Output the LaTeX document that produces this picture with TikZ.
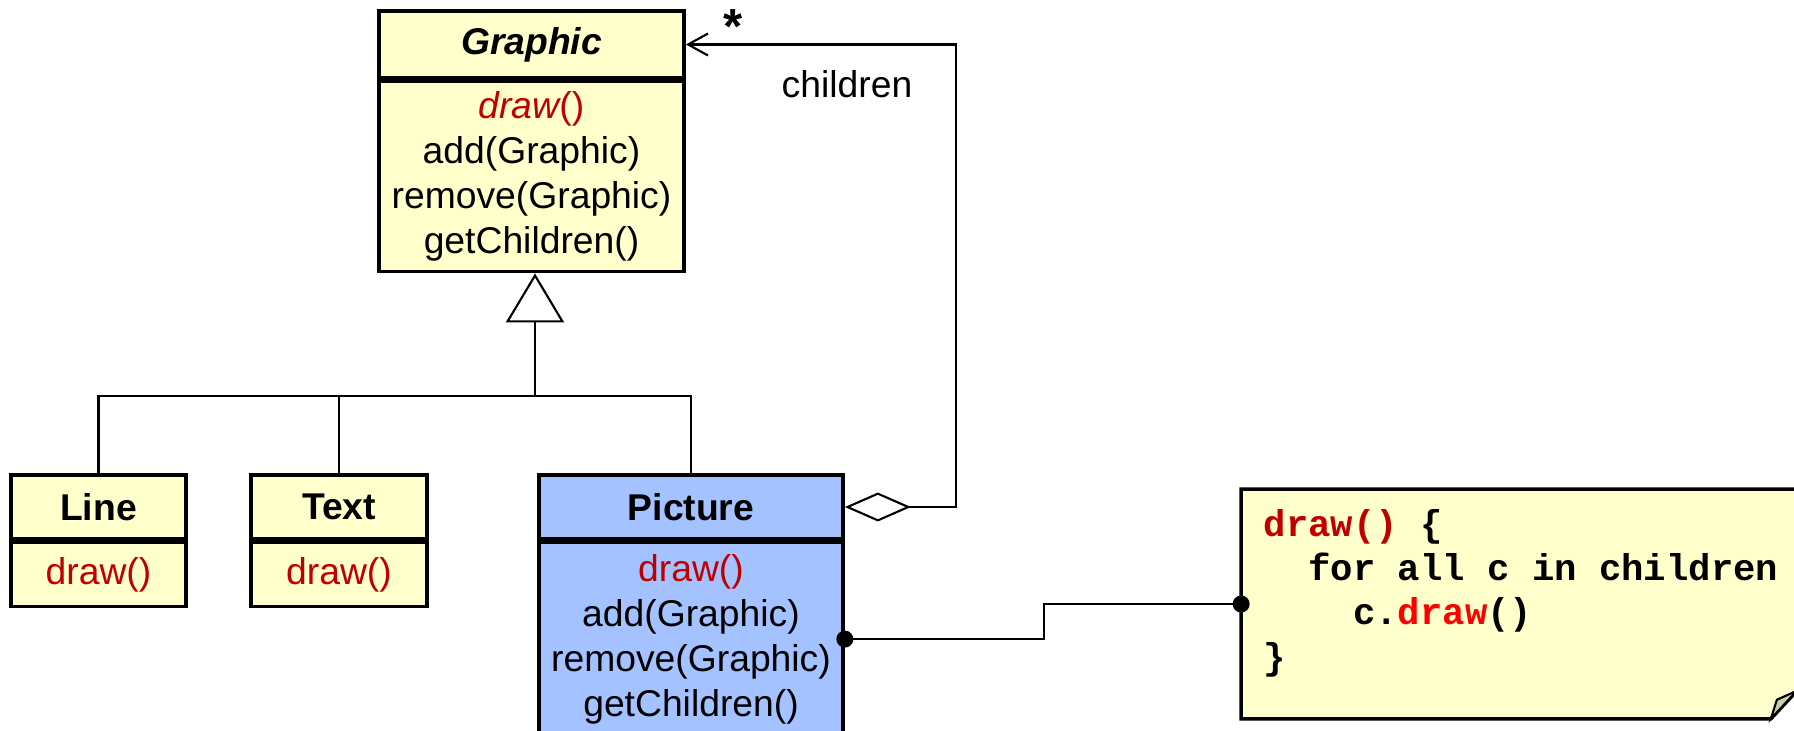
\documentclass[tikz,border=0pt]{standalone}
\usepackage{fontspec}
\setmainfont{Liberation Sans}
\newfontfamily\codefont{Liberation Mono}
\usetikzlibrary{positioning,arrows.meta}

\definecolor{classyellow}{HTML}{FFFFCC}
\definecolor{pictureblue}{HTML}{A3C2FF}
\definecolor{opred}{HTML}{C00000}
\definecolor{callred}{HTML}{FF0000}
\definecolor{foldgray}{HTML}{CDCDAA}

\tikzset{
    umlfont/.style={font=\fontsize{10.6}{12.8}\selectfont},
    classhead/.style={draw, line width=1pt, fill=classyellow, font=\fontsize{10.6}{12.8}\selectfont\bfseries,
        inner sep=0pt, minimum height=0.64cm, align=center},
    classops/.style={draw, line width=1pt, fill=classyellow, umlfont, inner sep=0pt, align=center},
    tree/.style={line width=0.6pt},
    generalize/.style={line width=0.6pt, -{Triangle[open, length=0.49cm, width=0.58cm]}},
    aggregate/.style={line width=0.6pt, {Diamond[open, length=0.66cm, width=0.29cm]}-{Straight Barb[length=0.2cm, width=0.22cm]}},
    link/.style={line width=0.6pt},
    rolelabel/.style={umlfont, inner sep=0pt},
    notebox/.style={minimum width=5.54cm, minimum height=2.28cm, inner sep=0pt},
    code/.style={font=\fontsize{10.6}{12.6}\selectfont\codefont\bfseries, align=left, inner sep=0pt}
}

\begin{document}
\begin{tikzpicture}[x=0.01cm, y=-0.01cm]
    \useasboundingbox (0,0) rectangle (1794,730);

    % Abstract component
    \node[classhead, minimum width=3.05cm, minimum height=0.67cm] (graphic) at (531.5,44.5) {\itshape Graphic};
    \node[classops, minimum width=3.05cm, minimum height=1.9cm, below=0pt of graphic] (graphicops)
        {\textcolor{opred}{\itshape draw\upshape()}\\add(Graphic)\\remove(Graphic)\\getChildren()};

    % Leaves
    \node[classhead, minimum width=1.75cm] (line) at (98.5,507) {Line};
    \node[classops, minimum width=1.75cm, minimum height=0.64cm, below=0pt of line] (lineops)
        {\textcolor{opred}{draw()}};

    \node[classhead, minimum width=1.76cm] (text) at (339,507) {Text};
    \node[classops, minimum width=1.76cm, minimum height=0.64cm, below=0pt of text] (textops)
        {\textcolor{opred}{draw()}};

    % Composite
    \node[classhead, fill=pictureblue, minimum width=3.04cm] (picture) at (691,507) {Picture};
    \node[classops, fill=pictureblue, minimum width=3.04cm, minimum height=1.93cm, below=0pt of picture] (pictureops)
        {\textcolor{opred}{draw()}\\add(Graphic)\\remove(Graphic)\\getChildren()};

    % Inheritance tree
    \coordinate (hub) at ([xshift=0.035cm]graphicops.south |- 0,396);
    \draw[generalize] (hub) -- ([xshift=0.035cm]graphicops.south);
    \draw[tree] (line.north) |- (hub);
    \draw[tree] (text.north) |- (hub);
    \draw[tree] (picture.north) |- (hub);

    % Aggregation of children
    \draw[aggregate] (picture.east) -- ++(111,0) |- (graphic.east);
    \node[rolelabel, font=\fontsize{14}{14}\selectfont\bfseries] (many) at (733,27) {*};
    \node[rolelabel] (children) at (847,84) {children};

    % Note with the composite draw()
    \node[notebox] (note) at (1519,604) {};
    \draw[line width=1pt, fill=classyellow] (note.north west) -- (note.north east)
        -- ([yshift=0.28cm]note.south east) -- ([xshift=-0.26cm]note.south east)
        -- (note.south west) -- cycle;
    \draw[line width=0.6pt, fill=foldgray] ([xshift=-0.26cm]note.south east)
        -- ([xshift=-0.2cm, yshift=0.19cm]note.south east)
        -- ([yshift=0.28cm]note.south east) -- cycle;
    \node[code, anchor=west] (code) at (1263,593)
        {\textcolor{opred}{draw()} \{\\
         \phantom{xx}for all c in children\\
         \phantom{xxxx}c.\textcolor{callred}{draw}()\\
         \}};

    \draw[link] (pictureops.east) -- ++(199,0) |- (note.west);
    \fill (pictureops.east) circle[radius=0.085cm];
    \fill (note.west) circle[radius=0.085cm];
\end{tikzpicture}
\end{document}
